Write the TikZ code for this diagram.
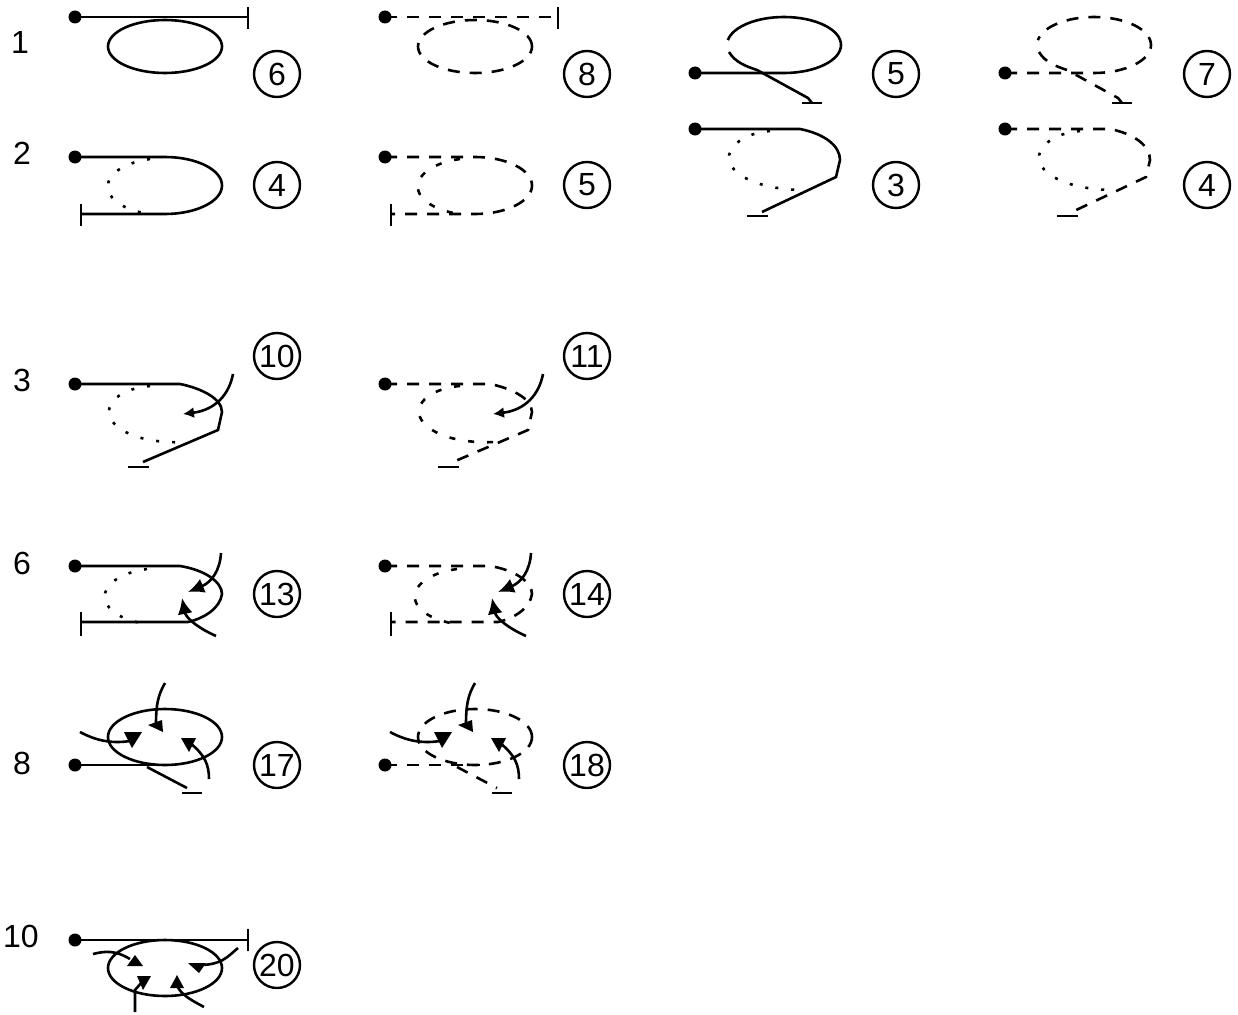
\documentclass[tikz,border=0pt]{standalone}
\usepackage{fontspec}
\setmainfont{Liberation Sans}
\usetikzlibrary{arrows.meta}
\tikzset{
  every path/.style={line width=2.6pt},
  trace/.style={},
  low/.style={dash pattern=on 3pt off 13pt},
  dot/.style={circle,fill=black,inner sep=0pt,minimum size=13pt},
  lab/.style={font=\fontsize{32}{32}\selectfont,inner sep=0pt},
  num/.style={circle,draw,line width=2.4pt,inner sep=0pt,minimum size=46pt,font=\fontsize{32}{32}\selectfont},
  arr/.style={-{Latex[length=16pt,width=15pt]}},
  smallarr/.style={-{Latex[length=11pt,width=11pt]}},
  head/.style={fill=black,draw=none},
  dashedtrace/.style={trace/.style={dash pattern=on 12pt off 10pt},
     low/.style={dash pattern=on 6pt off 13pt}},
}
\newcommand{\panelA}{%
  \node[dot] (a) at (75,17) {};
  \draw[trace] (a.center) -- (248,17);
  \draw[solid] (248,7) -- (248,29);
  \draw[trace] (165,46.5) circle[x radius=57pt,y radius=26.5pt];}
\newcommand{\panelB}{%
  \node[dot] (b) at (75,157) {};
  \draw[trace] (b.center) -- (165,157) arc[start angle=90,end angle=-90,x radius=57pt,y radius=28.5pt] -- (81,214);
  \draw[solid] (81,204) -- (81,226);
  \draw[low] (150,159) arc[start angle=105,end angle=255,x radius=57pt,y radius=28.5pt];}
\newcommand{\panelC}{%
  \node[dot] (c) at (695,73) {};
  \draw[trace] (c.center) -- (784,73) arc[start angle=-90,end angle=180-10,x radius=57pt,y radius=28pt];
  \draw[trace] (729,52) .. controls (735,62) and (745,66) .. (757,70) -- (808,98) -- (812,103);
  \draw[solid] (802,103) -- (822,103);}
\newcommand{\panelD}{%
  \node[dot] (d) at (695,129) {};
  \draw[trace] (d.center) -- (800,129) .. controls (825,134) and (840,146) .. (840,160) -- (836,177) -- (762,212);
  \draw[solid] (747,216) -- (768,216);
  \draw[low,dash pattern=on 3pt off 13pt] (770,131) .. controls (745,133) and (727,146) .. (729,160) .. controls (733,178) and (765,190) .. (805,190);}
\newcommand{\panelE}{%
  \node[dot] (e) at (75,384) {};
  \draw[trace] (e.center) -- (180,384) .. controls (200,388) and (222,398) .. (222,412) -- (218,430) -- (143,462);
  \draw[solid] (128,467) -- (149,467);
  \draw[low] (150,386) .. controls (125,388) and (107,400) .. (109,414) .. controls (113,432) and (145,444) .. (185,442);
  \draw[solid,smallarr] (233,374) .. controls (229,395) and (215,410) .. (183,414);}
\newcommand{\panelF}{%
  \node[dot] (f) at (75,566) {};
  \draw[trace] (f.center) -- (180,566) .. controls (205,570) and (222,582) .. (222,594) .. controls (220,608) and (205,618) .. (188,622) -- (81,622);
  \draw[solid] (81,612) -- (81,636);
  \draw[low] (147,569) arc[start angle=105,end angle=255,x radius=57pt,y radius=28.5pt];
  \draw[solid,arr] (221,553) .. controls (220,570) and (212,582) .. (188,592);
  \draw[solid,arr] (216,636) .. controls (198,628) and (186,618) .. (182,598);}
\newcommand{\panelG}{%
  \node[dot] (g) at (75,765) {};
  \draw[trace] (g.center) -- (170,765);
  \draw[trace] (165,737) circle[x radius=57pt,y radius=28pt];
  \draw[trace] (147,767) -- (187,788);
  \draw[solid] (182,793) -- (202,793);
  \draw[solid] (165,683) .. controls (158,695) and (156,705) .. (156,724);
  \fill[head] (148,725) -- (162,720) -- (163,732) -- cycle;
  \draw[solid] (80,732) .. controls (95,740) and (110,744) .. (130,741);
  \fill[head] (124,732) -- (142,732) -- (132,748) -- cycle;
  \draw[solid] (209,779) .. controls (209,765) and (205,755) .. (190,743);
  \fill[head] (181,738) -- (196,738) -- (189,752) -- cycle;}
\begin{document}
\begin{tikzpicture}[x=1pt,y=-1pt]
\useasboundingbox (0,0) rectangle (1238,1014);
\fill[white] (0,0) rectangle (1238,1014);
% row labels
\node[lab] (l1) at (20,42) {1};
\node[lab] (l2) at (22,153) {2};
\node[lab] (l3) at (22,380) {3};
\node[lab] (l6) at (22,563) {6};
\node[lab] (l8) at (22,763) {8};
\node[lab] (l10) at (21,936) {10};
% solid column
\panelA \panelB \panelC \panelD \panelE \panelF \panelG
% dashed columns
\begin{scope}[xshift=310pt,dashedtrace]
\panelA \panelB \panelC \panelD \panelE \panelF \panelG
\end{scope}
% panel 10
\node[dot] (j) at (75,940) {};
\draw (j.center) -- (248,940);
\draw (248,929) -- (248,951);
\draw (165,968) circle[x radius=57pt,y radius=28pt];
\draw (93,954) .. controls (105,951) and (115,950) .. (130,959);
\fill[head] (135,955) -- (143,966) -- (127,966) -- cycle;
\draw (238,948) .. controls (228,956) and (222,966) .. (195,965);
\fill[head] (188,963) -- (206,963) -- (199,973) -- cycle;
\draw (135,1012) -- (135,990) -- (142,982);
\fill[head] (137,976) -- (151,976) -- (143,990) -- cycle;
\draw (204,1007) .. controls (195,1002) and (180,995) .. (177,985);
\fill[head] (177,975) -- (170,988) -- (184,988) -- cycle;
% numbers
\node[num] (n1) at (277,74) {6};
\node[num] (n2) at (587,74) {8};
\node[num] (n3) at (896,74) {5};
\node[num] (n4) at (1207,74) {7};
\node[num] (n5) at (277,185) {4};
\node[num] (n6) at (587,185) {5};
\node[num] (n7) at (896,185) {3};
\node[num] (n8) at (1207,185) {4};
\node[num] (n9) at (277,356) {10};
\node[num] (n10) at (587,356) {11};
\node[num] (n11) at (277,594) {13};
\node[num] (n12) at (587,594) {14};
\node[num] (n13) at (277,765) {17};
\node[num] (n14) at (587,765) {18};
\node[num] (n15) at (277,965) {20};
\end{tikzpicture}
\end{document}
